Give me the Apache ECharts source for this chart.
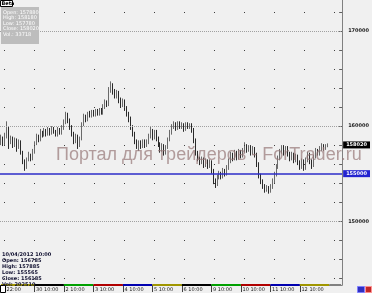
<!DOCTYPE html>
<html><head><meta charset="utf-8">
<script src="https://cdn.jsdelivr.net/npm/echarts@6/dist/echarts.min.js"></script>
<style>html,body{margin:0;padding:0;background:#f0f0f0}#c{width:372px;height:293px}</style>
</head><body><div id="c"></div>
<script>
const opens=[158300,158600,158200,158900,159800,158300,158700,158000,158500,157800,
158300,157200,156200,155700,156500,156900,156600,157300,158200,158900,
158600,159300,159000,159500,159200,159600,159300,159700,159400,159100,
159600,159300,159800,160400,161200,160600,159900,159200,158400,158900,
158000,158700,160200,161000,160700,161300,161100,161500,161200,161600,
161300,161700,161400,162000,162500,162300,163800,164300,163600,163200,
163500,162700,162200,162600,161900,161300,160800,159900,159200,158400,
157900,158300,157900,158400,158000,158300,158900,159500,158800,159400,
158700,158100,157500,157900,157200,157800,158600,159300,159900,160200,
159800,160300,159900,160100,159700,160200,159900,160100,159600,158500,
157200,156600,156200,156500,155900,156300,155800,156200,155300,154200,
153900,154600,155000,154700,155300,155000,155600,156300,157000,156600,
157200,156700,157300,156900,157400,157900,157500,157800,157200,157600,
157000,156000,154800,154200,153700,153300,153500,153100,153600,154200,
154900,155700,156600,157300,157800,157200,157700,157100,156600,157000,
156400,156800,156200,155700,156300,155600,156400,157000,156300,155900,
156800,157400,157100,157600,157900,157600,157880];
const closes=[158600,158200,158900,159800,158300,158700,158000,158500,157800,158300,
157200,156200,155700,156500,156900,156600,157300,158200,158900,158600,
159300,159000,159500,159200,159600,159300,159700,159400,159100,159600,
159300,159800,160400,161200,160600,159900,159200,158400,158900,158000,
158700,160200,161000,160700,161300,161100,161500,161200,161600,161300,
161700,161400,162000,162500,162300,163800,164300,163600,163200,163500,
162700,162200,162600,161900,161300,160800,159900,159200,158400,157900,
158300,157900,158400,158000,158300,158900,159500,158800,159400,158700,
158100,157500,157900,157200,157800,158600,159300,159900,160200,159800,
160300,159900,160100,159700,160200,159900,160100,159600,158500,157200,
156600,156200,156500,155900,156300,155800,156200,155300,154200,153900,
154600,155000,154700,155300,155000,155600,156300,157000,156600,157200,
156700,157300,156900,157400,157900,157500,157800,157200,157600,157000,
156000,154800,154200,153700,153300,153500,153100,153600,154200,154900,
155700,156600,157300,157800,157200,157700,157100,156600,157000,156400,
156800,156200,155700,156300,155600,156400,157000,156300,155900,156800,
157400,157100,157600,157900,157600,157880,158020];
const highs=[159100,158900,159300,160500,159900,159000,158900,158800,158700,158600,
158500,157400,156500,156700,157300,157100,157600,158400,159200,159100,
159700,159500,159800,159700,159900,159800,160000,159900,159600,159900,
159800,160100,160700,161500,161400,160800,160100,159400,159200,159100,
158900,160400,161300,161200,161500,161600,161700,161700,161800,161800,
161900,161900,162300,162800,162700,164100,164700,164500,163900,163800,
163700,163000,162900,162800,162100,161500,161000,160100,159400,158600,
158500,158500,158600,158600,158600,159200,159900,159700,159600,159600,
158900,158300,158200,158100,158000,158800,159600,160200,160500,160400,
160500,160500,160400,160300,160400,160400,160300,160300,159800,158700,
157400,156800,156800,156700,156600,156500,156500,156400,155500,154500,
154900,155300,155200,155600,155500,155900,156600,157300,157200,157500,
157400,157600,157500,157700,158300,158100,158000,158000,157900,157800,
157200,156200,155000,154400,153900,153800,153700,153900,154500,155200,
156000,156900,157600,158000,158000,157900,157900,157300,157300,157200,
157100,157000,156400,156600,156500,156700,157300,157200,156500,157000,
157700,157600,157900,158200,158100,158100,158180];
const lows=[158000,157900,158000,158700,157600,158100,157700,157800,157300,157600,
157000,156000,155300,155500,156300,156300,156400,157100,158000,158300,
158400,158800,158900,158900,159000,159000,159100,159200,158900,158900,
159100,159100,159600,160200,160300,159600,158900,158100,158200,157600,
157800,158500,160000,160400,160500,160900,160900,161000,161000,161100,
161100,161200,161200,161800,162000,162100,163500,163300,162900,162900,
162400,161900,162000,161600,161000,160400,159600,158900,158100,157600,
157400,157600,157700,157700,157800,158100,158700,158500,158600,158400,
157800,157200,157300,156900,157000,157600,158400,159100,159700,159500,
159600,159700,159700,159400,159500,159700,159700,159300,158200,156900,
156300,155900,156000,155600,155700,155500,155600,155000,153900,153500,
153700,154400,154400,154500,154700,154800,155400,156100,156300,156400,
156400,156500,156600,156700,157200,157200,157300,156900,157000,156700,
155700,154500,153900,153400,153000,153100,152900,153000,153400,154000,
154700,155500,156400,157100,156900,157000,156800,156300,156400,156100,
156200,155900,155400,155500,155300,155400,156200,156000,155500,155700,
156600,156900,156900,157400,157400,157500,157780];

const firstLabel='22:00';
const dayLabels=['30 10:00','2 10:00','3 10:00','4 10:00','5 10:00','6 10:00','9 10:00','10 10:00','11 10:00','12 10:00'];
const dayColors=['#a09600','#000000','#00a000','#b00000','#0000b0'];
const gridLevels=[144000,146000,148000,152000,154000,156000,158000,162000,164000,166000,168000,172000];
const tickLevels=[144000,146000,148000,150000,152000,154000,156000,158000,160000,162000,164000,166000,168000,170000,172000];
const labelLevels=[150000,160000,170000];
const supportLevel=155000;
const lastClose=158020;
const yMin=143300, yMax=173250;
const leadBars=17, barsPerDay=15, totalSlots=174, firstLabelIdx=2;
const infoTop=['Open: 157880','High: 158180','Low: 157780','Close: 158020','Vol.: 33718'];
const infoBottom=['10/04/2012 10:00','Open: 156785','High: 157885','Low: 155565','Close: 156185','Vol: 202510'];
const watermark='Портал для трейдеров - ForTrader.ru';

const labels=[];
for(let i=0;i<leadBars;i++) labels.push(i===firstLabelIdx?firstLabel:'');
const dayStarts=[0];
dayLabels.forEach(d=>{dayStarts.push(labels.length);labels.push(d);for(let k=1;k<barsPerDay;k++)labels.push('');});
const dataEnd=labels.length;
while(labels.length<totalSlots) labels.push('');
const cats=labels.map((l,i)=>'b'+i);

const candleData=opens.map((o,i)=>[o,closes[i],lows[i],highs[i]]);

const ml=[];
gridLevels.forEach(v=>ml.push({yAxis:v,lineStyle:{color:'#404040',width:1,type:[1,29],dashOffset:26},label:{show:false}}));
labelLevels.forEach(v=>ml.push({yAxis:v,lineStyle:{color:'#a0a0a0',width:1,type:[1,1]},label:{show:false}}));
ml.push({yAxis:supportLevel,lineStyle:{color:'#2c2cc8',width:1.5,type:'solid'},
  label:{show:true,position:'end',distance:1,formatter:String(supportLevel),backgroundColor:'#2424d0',color:'#fff',fontSize:5,fontWeight:'bold',padding:[1,3,1,3],fontFamily:'DejaVu Sans'}});
ml.push({yAxis:lastClose,lineStyle:{color:'rgba(0,0,0,0)',width:1,type:'solid'},
  label:{show:true,position:'end',distance:1,formatter:String(lastClose),backgroundColor:'#000',color:'#fff',fontSize:5,fontWeight:'bold',padding:[1,3,1,3],fontFamily:'DejaVu Sans'}});
const segBounds=dayStarts.concat([dataEnd]);
for(let k=0;k<segBounds.length-1;k++){
  ml.push([{coord:[cats[segBounds[k]],yMin],lineStyle:{color:dayColors[k%5],width:2,type:'solid'},label:{show:false}},{coord:[cats[segBounds[k+1]],yMin]}]);
}
ml.push([{coord:[cats[dataEnd],yMin],lineStyle:{color:'#808080',width:2,type:'solid'},label:{show:false}},{coord:[cats[totalSlots-1],yMin]}]);

const chart=echarts.init(document.getElementById('c'),null,{renderer:'canvas'});
const txt=(t,x,y,opt)=>Object.assign({type:'text',x:x,y:y,z:100,style:Object.assign({text:t,fill:'#000',font:'bold 5px "DejaVu Sans"',textVerticalAlign:'middle'},opt||{})});
const graphics=[
  {type:'text',left:56,top:146,z:90,style:{text:watermark,fill:'rgba(150,118,118,0.7)',font:'18px "Liberation Sans"'}},
  {type:'rect',shape:{x:0.5,y:0.5,width:12,height:6},z:100,style:{fill:'#fff',stroke:'#000',lineWidth:1}},
  txt('Beta',1.5,3.8,{font:'bold 5px "DejaVu Sans"'}),
  {type:'rect',shape:{x:1,y:7,width:38,height:37},z:99,style:{fill:'#bdbdbd'}},
  {type:'rect',shape:{x:0.5,y:285.5,width:5,height:7},z:100,style:{fill:'#fff',stroke:'#000',lineWidth:1}},
  {type:'rect',shape:{x:357.5,y:286.5,width:7,height:6},z:100,style:{fill:'#3030c0',stroke:'#8080ff',lineWidth:1}},
  {type:'rect',shape:{x:365.5,y:286.5,width:6,height:6},z:100,style:{fill:'#c02828',stroke:'#ff9090',lineWidth:1}}
];
infoTop.forEach((t,i)=>graphics.push(txt(t,3,12.7+i*5.5,{fill:'#ffffff',font:'5px "DejaVu Sans"'})));
infoBottom.forEach((t,i)=>graphics.push(txt(t,2,254.5+i*6,{fill:'#101030'})));

chart.setOption({
  animation:false,
  backgroundColor:'#f0f0f0',
  grid:{left:0,right:23,top:0,bottom:8},
  xAxis:{type:'category',data:cats,boundaryGap:true,
    axisLine:{show:true,lineStyle:{color:'#808080',width:1}},
    axisTick:{show:true,alignWithLabel:true,length:7,interval:(i)=>labels[i]!=='',lineStyle:{color:'#404040'}},
    axisLabel:{show:true,interval:(i)=>labels[i]!=='',formatter:(v,i)=>' '+labels[i],align:'left',margin:2,fontSize:5,color:'#202020',fontFamily:'DejaVu Sans'},
    splitLine:{show:false}},
  yAxis:{type:'value',position:'right',min:yMin,max:yMax,scale:true,
    axisLine:{show:true,lineStyle:{color:'#808080',width:1}},
    axisTick:{show:true,inside:true,length:3,customValues:tickLevels,lineStyle:{color:'#606060'}},
    axisLabel:{show:true,customValues:labelLevels,formatter:(v)=>String(v),margin:6,fontSize:5,fontWeight:'bold',color:'#202020',fontFamily:'DejaVu Sans'},
    splitLine:{show:false}},
  series:[{type:'candlestick',data:candleData,barWidth:1,
    itemStyle:{color:'#d0d0d0',color0:'#2a2a2a',borderColor:'#6a6a6a',borderColor0:'#2a2a2a',borderWidth:1},
    markLine:{silent:true,symbol:['none','none'],animation:false,data:ml}}],
  graphic:graphics
});
</script></body></html>
